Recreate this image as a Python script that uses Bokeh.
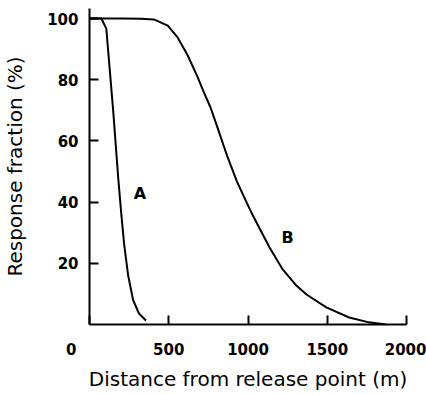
from bokeh.plotting import figure
from bokeh.models import FixedTicker, Range1d, Label
from bokeh.embed import file_html
from bokeh.resources import INLINE

# Curve A
a_dist = [0, 75, 106, 125, 150, 181, 200, 219, 244, 275, 312, 356]
a_resp = [100, 100, 96.7, 85, 69.5, 48, 36.5, 26, 16, 8, 3.6, 1.3]

# Curve B
b_dist = [0, 200, 325, 406, 494, 556, 619, 681, 719, 763, 806, 869, 931, 994,
          1031, 1075, 1138, 1219, 1300, 1369, 1494, 1638, 1763, 1869]
b_resp = [100, 100, 99.9, 99.7, 97.7, 93.8, 88.0, 81.0, 76.2, 71.0, 64.6, 55.0,
          46.6, 39.6, 35.6, 31.2, 25.0, 18.0, 13.0, 9.8, 5.6, 2.3, 0.7, 0]

x_ticks = [0, 500, 1000, 1500, 2000]
y_ticks = [20, 40, 60, 80, 100]

curve_labels = ["A", "B"]
label_pos_x = [319, 1250]
label_pos_y = [42.8, 28.4]

p = figure(width=426, height=394, output_backend="svg", toolbar_location=None,
           x_range=Range1d(0, 2000), y_range=Range1d(0, 103.27),
           min_border_left=88, min_border_right=20, min_border_top=8,
           min_border_bottom=70)
p.outline_line_color = None
p.grid.grid_line_color = None
p.background_fill_color = "white"

p.line(a_dist, a_resp, line_color="black", line_width=2)
p.line(b_dist, b_resp, line_color="black", line_width=2)

for t, x, y in zip(curve_labels, label_pos_x, label_pos_y):
    p.add_layout(Label(x=x, y=y, text=t, text_font="DejaVu Sans",
                       text_font_style="bold", text_font_size="16px",
                       text_color="black",
                       text_align="center", text_baseline="middle"))

for ax in (p.xaxis[0], p.yaxis[0]):
    ax.axis_line_width = 2
    ax.axis_line_color = "black"
    ax.major_tick_line_width = 2
    ax.major_tick_line_color = "black"
    ax.major_tick_in = 9
    ax.major_tick_out = 0
    ax.minor_tick_line_color = None
    ax.major_label_text_font = "DejaVu Sans"
    ax.major_label_text_font_style = "bold"
    ax.major_label_text_font_size = "15px"
    ax.major_label_text_color = "black"
    ax.axis_label_text_font = "DejaVu Sans"
    ax.axis_label_text_font_style = "normal"
    ax.axis_label_text_font_size = "20px"
    ax.axis_label_text_color = "black"

p.xaxis.ticker = FixedTicker(ticks=x_ticks)
p.yaxis.ticker = FixedTicker(ticks=y_ticks)
p.xaxis.major_label_overrides = {0: "0" + "\u00a0" * 7}
p.xaxis.major_label_standoff = 16
p.yaxis.major_label_standoff = 11
p.xaxis.axis_label = "Distance from release point (m)"
p.yaxis.axis_label = "Response fraction (%)"
p.xaxis.axis_label_standoff = 5
p.yaxis.axis_label_standoff = 17

open("out.html", "w").write(file_html(p, INLINE))
